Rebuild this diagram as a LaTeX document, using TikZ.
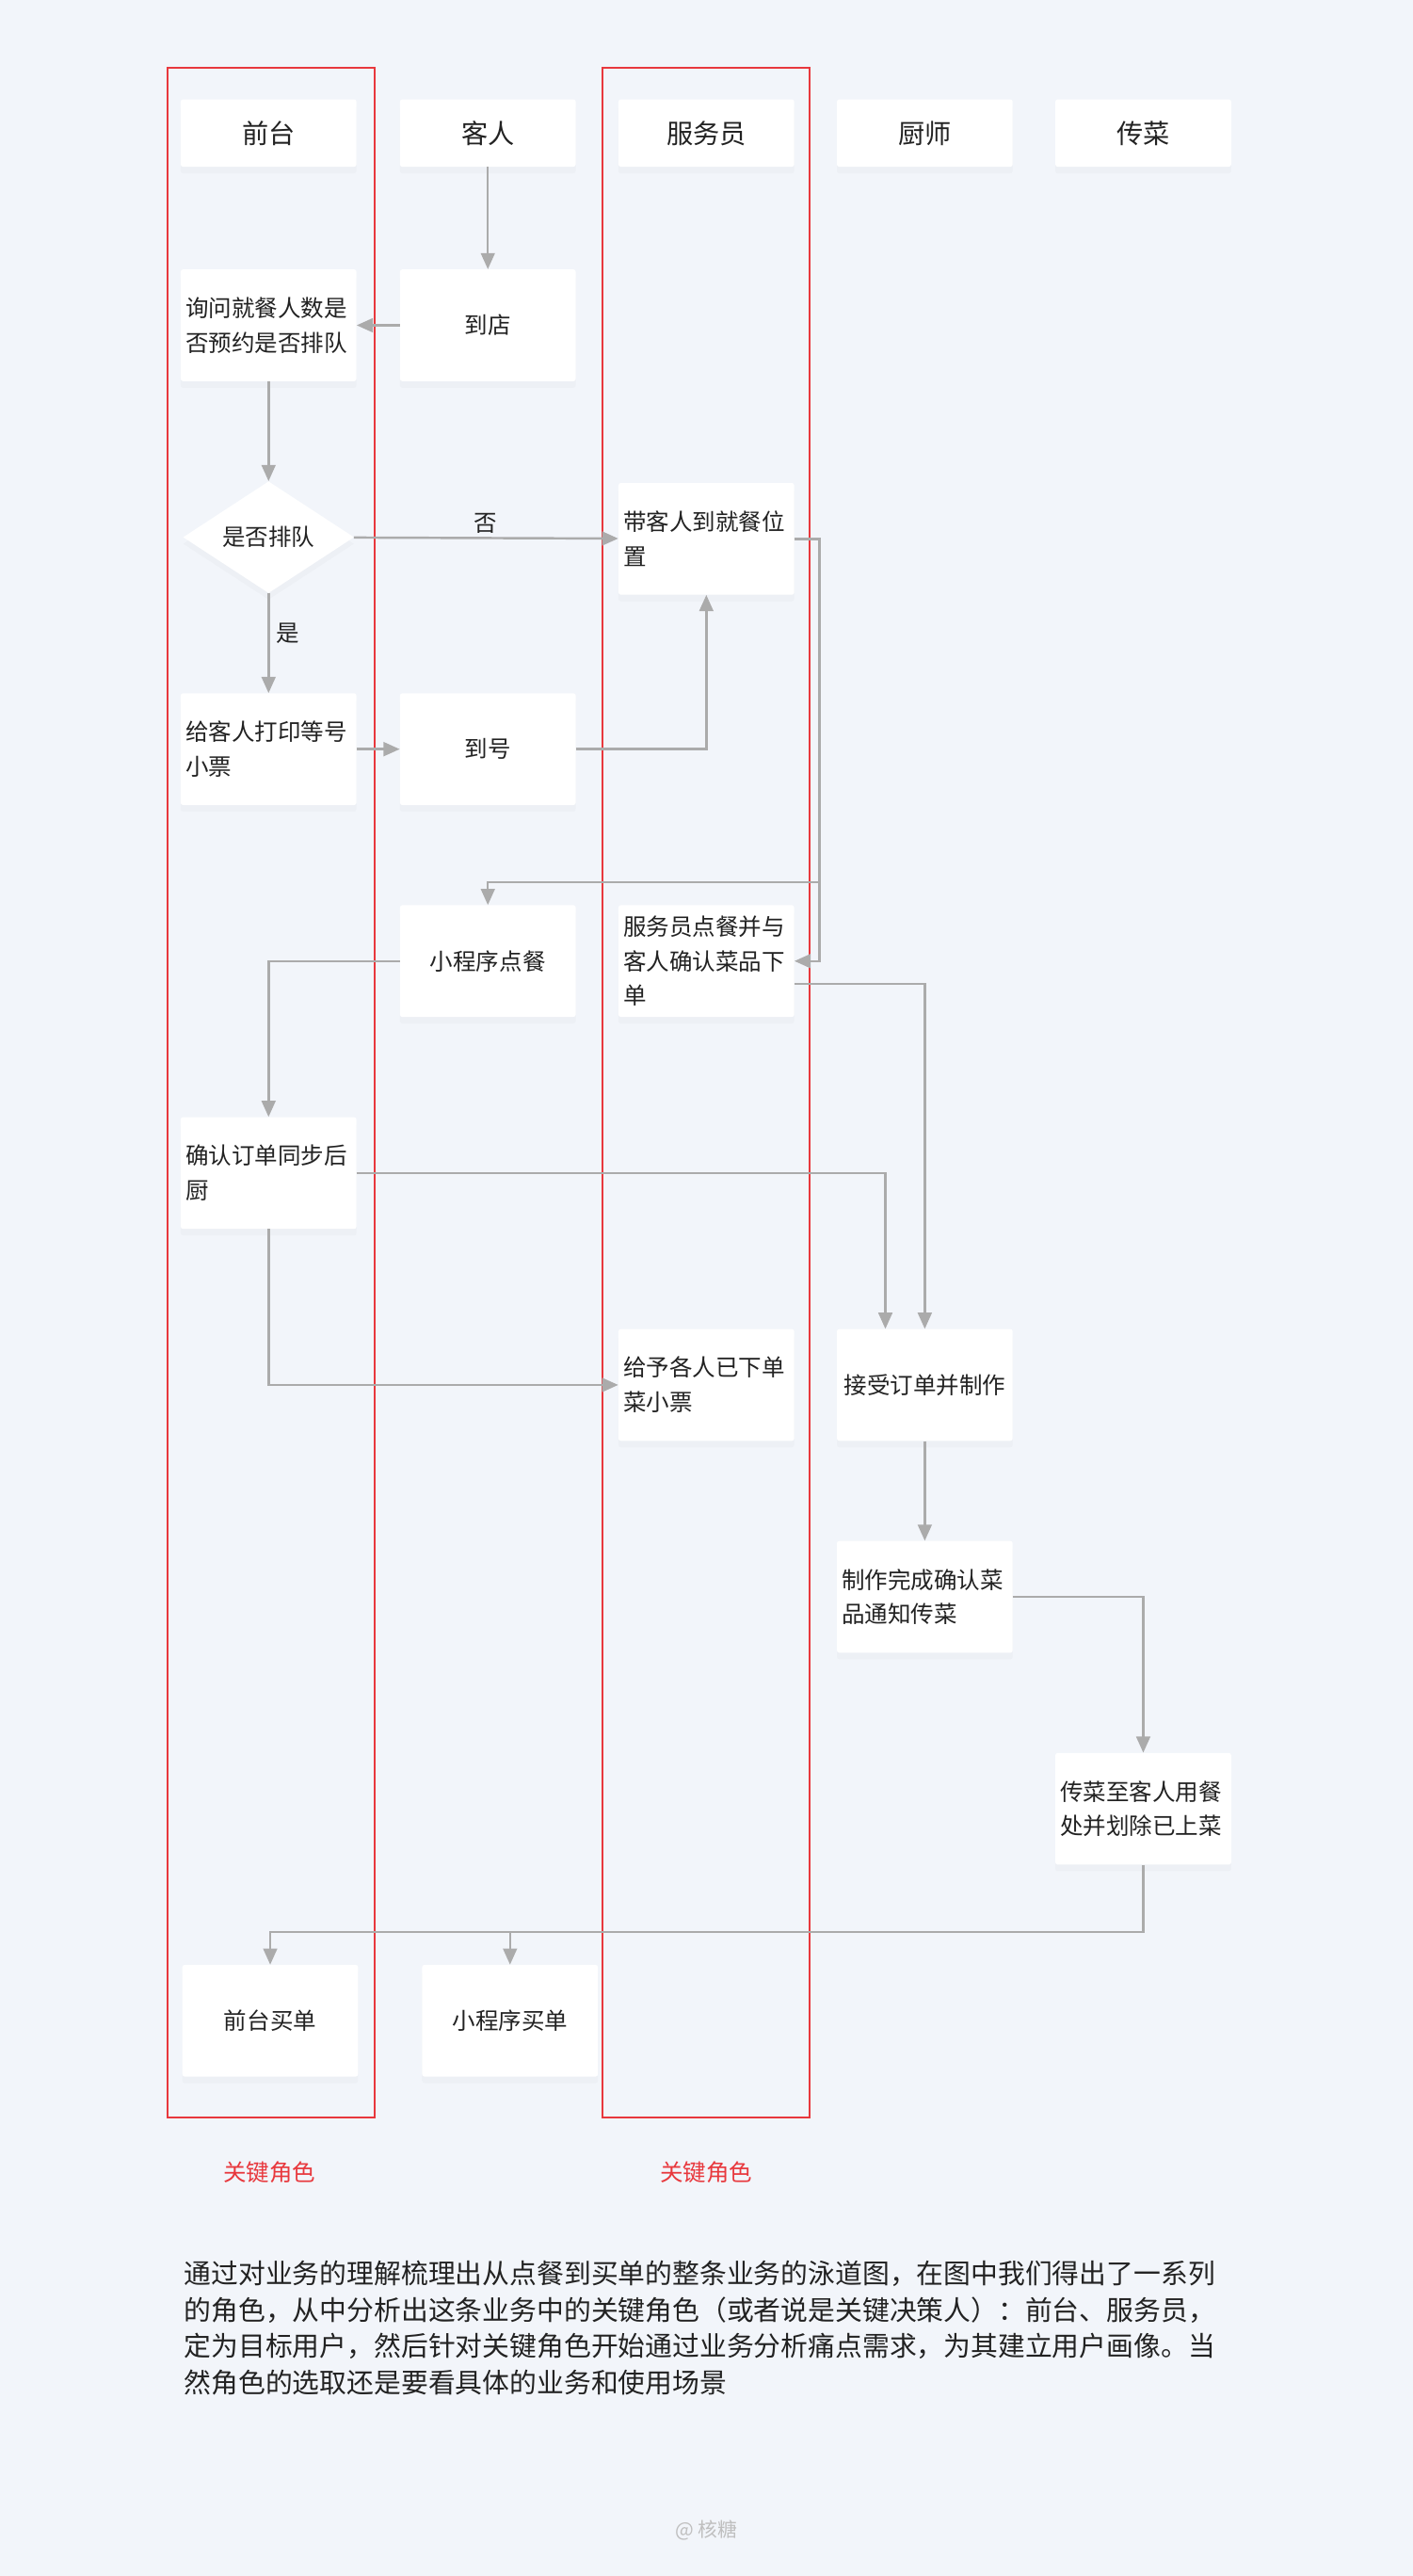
\documentclass[tikz,border=0pt]{standalone}
\usepackage{fontspec}
\setmainfont{Noto Sans CJK SC}
\usepackage{xcolor}
\usetikzlibrary{arrows.meta, positioning, calc, shapes.geometric, shadows}
\definecolor{bgcol}{HTML}{F2F5FA}
\definecolor{linecol}{HTML}{ABABAB}
\definecolor{lanered}{HTML}{E8383D}
\definecolor{txtcol}{HTML}{222222}
\tikzset{
  soft/.style={drop shadow={shadow xshift=0cm, shadow yshift=-0.2cm, opacity=0.04, fill=black!50}},
  card/.style={fill=white, rounded corners=2pt, minimum width=5.35cm, minimum height=3.4cm,
    text width=5.05cm, align=left, font=\fontsize{20pt}{30pt}\selectfont, text=txtcol, soft},
  midcard/.style={card, align=center},
  head/.style={fill=white, rounded corners=2pt, minimum width=5.35cm, minimum height=2.05cm,
    font=\fontsize{23pt}{27pt}\selectfont, text=txtcol, soft},
  decide/.style={diamond, fill=white, minimum width=5.2cm, minimum height=3.4cm, aspect=1.5,
    inner sep=0pt, font=\fontsize{20pt}{24pt}\selectfont, text=txtcol, soft},
  flow/.style={draw=linecol, line width=2pt, -{Triangle[length=14pt, width=12pt]}},
  lane/.style={draw=lanered, line width=1.6pt},
  tag/.style={font=\fontsize{20pt}{24pt}\selectfont, text=txtcol},
}
\begin{document}
\begin{tikzpicture}[x=0.05cm, y=-0.05cm]
  % background
  \fill[bgcol] (0,0) rectangle (860,1568);

  % swimlane frames
  \draw[lane] (102,41) rectangle (228,1289);
  \draw[lane] (367,41) rectangle (493,1289);

  % headers
  \node[head] (hfront) at (163.5,81) {前台};
  \node[head] (hguest) at (297,81) {客人};
  \node[head] (hwaiter) at (430,81) {服务员};
  \node[head] (hchef) at (563,81) {厨师};
  \node[head] (hrunner) at (696,81) {传菜};

  % steps
  \node[card] (ask) at (163.5,198) {询问就餐人数是\\否预约是否排队};
  \node[midcard] (arrive) at (297,198) {到店};
  \node[decide] (queue) at (163.5,327) {是否排队};
  \node[card] (lead) at (430,328) {带客人到就餐位\\置};
  \node[card] (ticket) at (163.5,456) {给客人打印等号\\小票};
  \node[midcard] (call) at (297,456) {到号};
  \node[midcard] (mini) at (297,585) {小程序点餐};
  \node[card] (order) at (430,585) {服务员点餐并与\\客人确认菜品下\\单};
  \node[card] (confirm) at (163.5,714) {确认订单同步后\\厨};
  \node[card] (slip) at (430,843) {给予各人已下单\\菜小票};
  \node[midcard] (cook) at (563,843) {接受订单并制作};
  \node[card] (done) at (563,972) {制作完成确认菜\\品通知传菜};
  \node[card] (serve) at (696,1101) {传菜至客人用餐\\处并划除已上菜};
  \node[midcard] (payfront) at (164.5,1230) {前台买单};
  \node[midcard] (paymini) at (310.5,1230) {小程序买单};

  % connectors
  \draw[flow] (hguest) -- (arrive);
  \draw[flow] (arrive) -- (ask);
  \draw[flow] (ask) -- (queue);
  \draw[flow] (queue) -- node[tag, above=0pt] {否} (lead);
  \draw[flow] (queue) -- node[tag, right=2pt, pos=0.4] {是} (ticket);
  \draw[flow] (ticket) -- (call);
  \draw[flow] (call.east) -| (lead.south);
  \draw[flow] (lead.east) -| (499,585) -- (order.east);
  \draw[flow] (499,537) -| (mini.north);
  \draw[flow] (mini.west) -| (confirm.north);
  \draw[flow] (order.east |- 0,599) -| (cook.north);
  \draw[flow] (confirm.east) -| (cook.north -| 539,0);
  \draw[flow] (confirm.south) |- (slip.west);
  \draw[flow] (cook) -- (done);
  \draw[flow] (done.east) -| (serve.north);
  \draw[flow] (serve.south) |- (164.5,1176) -- (payfront.north);
  \draw[flow] (310.5,1176) -- (paymini.north);

  % key role labels
  \node[text=lanered, font=\fontsize{20pt}{24pt}\selectfont] (keyfront) at (164,1322) {关键角色};
  \node[text=lanered, font=\fontsize{20pt}{24pt}\selectfont] (keywaiter) at (430,1322) {关键角色};

  % summary text
  \node[anchor=north west, align=left, text=txtcol, font=\fontsize{23.5pt}{31.5pt}\selectfont, inner sep=0pt] (summary) at (112,1376)
    {通过对业务的理解梳理出从点餐到买单的整条业务的泳道图，在图中我们得出了一系列\\
     的角色，从中分析出这条业务中的关键角色（或者说是关键决策人）：前台、服务员，\\
     定为目标用户，然后针对关键角色开始通过业务分析痛点需求，为其建立用户画像。当\\
     然角色的选取还是要看具体的业务和使用场景};

  \node[text=black!25, font=\fontsize{17pt}{20pt}\selectfont] (mark) at (430,1540) {@ 核糖};
\end{tikzpicture}
\end{document}
